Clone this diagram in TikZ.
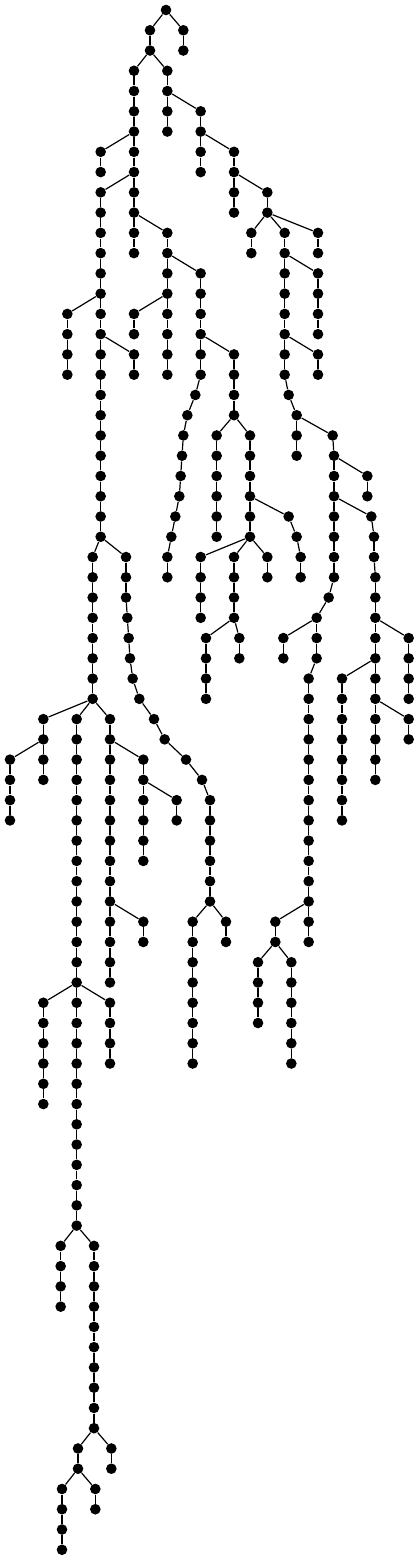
\documentclass[tikz,border=0pt]{standalone}
\begin{document}
\begin{tikzpicture}[x=0.166667pt,y=-10.13pt,
  dot/.style={circle,fill=black,draw=none,inner sep=0pt,minimum size=5.3pt},
  edge/.style={line width=0.6pt,black}]
\useasboundingbox (0,-0.4936) rectangle (1257,76.555);
% vertical runs: x / first level / last level
\foreach \x/\a/\b in {498/0/0, 450/1/2, 550/1/2, 402/3/12, 502/3/6, 602/5/8, 702/7/10, 802/9/10,
  754/11/12, 854/11/18, 954/11/12, 954/13/16, 954/17/18, 302/7/8, 302/9/26, 502/11/18, 602/13/18,
  202/15/18, 402/15/16, 402/17/18, 702/17/20, 866/19/19, 890/20/22, 998/21/21, 1002/22/28,
  1102/23/24, 1114/25/25, 1122/26/27, 1126/28/38, 1226/31/34, 1026/33/40, 1226/35/36, 986/29/29,
  950/30/32, 850/31/32, 926/33/46, 826/45/46, 774/47/50, 874/47/52, 586/19/19, 562/20/20,
  550/21/21, 546/22/22, 542/23/23, 538/24/24, 526/25/25, 514/26/26, 502/27/28, 650/21/26,
  750/21/26, 866/25/25, 890/26/26, 902/27/28, 602/27/30, 702/27/30, 802/27/28, 618/31/34,
  718/31/32, 278/27/34, 378/27/29, 382/30/30, 386/31/31, 390/32/32, 398/33/33, 418/34/34,
  462/35/35, 494/36/36, 558/37/37, 606/38/38, 630/39/44, 578/45/52, 678/45/46, 130/35/38,
  30/37/40, 230/35/60, 330/35/48, 430/37/42, 530/39/40, 430/45/46, 130/49/54, 330/49/52,
  182/61/64, 282/61/70, 334/71/72, 234/71/72, 186/73/76, 286/73/74}{
  \foreach \l in {\a,...,\b}{\node[dot] (n-\x-\l) at (\x,\l) {};}
  \ifnum\b>\a
    \pgfmathtruncatemacro\c{\b-1}
    \foreach \l in {\a,...,\c}{\pgfmathtruncatemacro\m{\l+1}\draw[edge] (n-\x-\l) -- (n-\x-\m);}
  \fi
}
% branch edges: parent x / parent level / child x (child one level lower)
\foreach \p/\l/\q in {498/0/450, 498/0/550, 450/2/402, 450/2/502, 502/4/602, 402/6/302, 602/6/702,
  402/8/302, 702/8/802, 402/10/502, 802/10/754, 802/10/854, 802/10/954, 502/12/602, 854/12/954,
  302/14/202, 502/14/402, 302/16/402, 602/16/702, 854/16/954, 602/18/586, 854/18/866, 586/19/562,
  562/20/550, 550/21/546, 546/22/542, 542/23/538, 538/24/526, 526/25/514, 514/26/502, 702/20/650,
  702/20/750, 866/19/890, 890/20/998, 998/21/1002, 1002/22/1102, 1002/24/1114, 1114/25/1122,
  1122/27/1126, 1002/28/986, 986/29/950, 950/30/850, 950/32/926, 1126/30/1226, 1126/32/1026,
  1126/34/1226, 926/44/826, 826/46/774, 826/46/874, 750/24/866, 866/25/890, 890/26/902,
  750/26/602, 750/26/702, 750/26/802, 702/30/618, 702/30/718, 302/26/278, 302/26/378,
  378/29/382, 382/30/386, 386/31/390, 390/32/398, 398/33/418, 418/34/462, 462/35/494,
  494/36/558, 558/37/606, 606/38/630, 630/44/578, 630/44/678, 278/34/130, 278/34/230,
  278/34/330, 130/36/30, 330/36/430, 430/38/530, 330/44/430, 230/48/130, 230/48/330,
  230/60/182, 230/60/282, 282/70/234, 282/70/334, 234/72/186, 234/72/286}{
  \pgfmathtruncatemacro\m{\l+1}
  \draw[edge] (n-\p-\l) -- (n-\q-\m);
}
\end{tikzpicture}
\end{document}
